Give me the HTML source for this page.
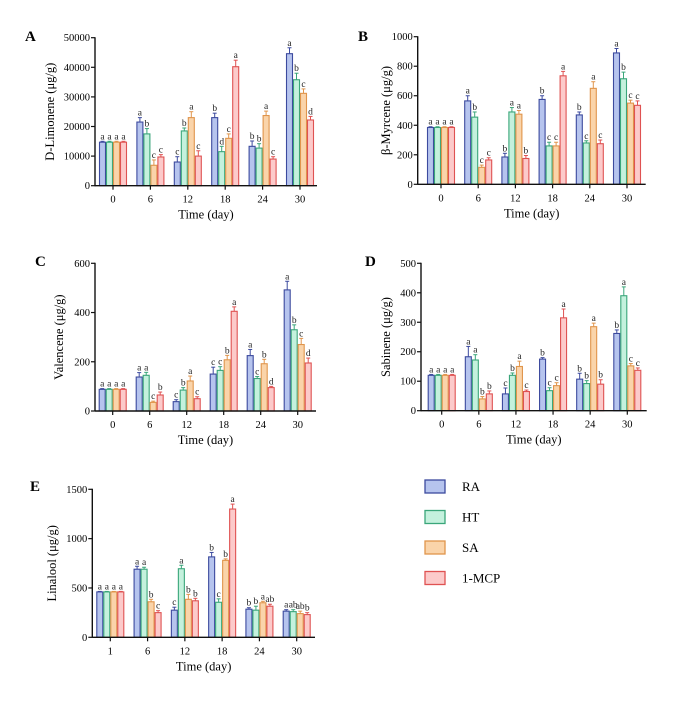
<!DOCTYPE html>
<html><head><meta charset="utf-8"><style>
body{margin:0;background:#fff}
svg{display:block;font-family:"Liberation Serif",serif}
</style></head><body>
<svg id="fig" width="692" height="701" viewBox="0 0 692 701"></svg>
<script>
const categoriesMain = ["0","6","12","18","24","30"];
const categoriesE = ["1","6","12","18","24","30"];
const seriesNames = ["RA","HT","SA","1-MCP"];
const limA = [[14700,21500,8000,23000,13300,44600],[14700,17500,18500,11500,12700,35800],[14700,6900,23000,16000,23700,31200],[14700,9700,10000,40200,9000,22200]];
const limErr = [[300,1500,1800,1500,1800,2000],[300,1800,1000,1800,1500,2200],[300,1800,2000,1500,1500,1500],[300,800,1800,2200,800,1200]];
const limLet = [["a","a","c","b","b","a"],["a","b","b","d","b","b"],["a","c","a","c","a","c"],["a","c","c","a","c","d"]];
const myrB = [[385,565,185,575,470,890],[385,455,490,260,280,715],[385,115,475,260,650,550],[385,165,175,735,275,535]];
const myrErr = [[5,35,25,25,20,30],[5,35,30,25,15,45],[5,15,25,25,45,20],[5,15,20,30,25,30]];
const myrLet = [["a","a","b","b","b","a"],["a","b","a","c","c","b"],["a","c","a","c","a","c"],["a","c","b","a","c","c"]];
const valC = [[88,138,38,150,225,492],[88,145,85,165,132,330],[88,35,122,208,192,270],[88,65,50,405,95,195]];
const valErr = [[3,18,8,28,25,35],[3,12,10,15,8,20],[3,5,20,18,18,25],[3,12,8,18,5,20]];
const valLet = [["a","a","c","c","a","a"],["a","a","b","c","c","b"],["a","c","a","b","b","c"],["a","b","c","a","d","d"]];
const sabD = [[120,183,57,175,107,262],[120,172,120,68,92,390],[120,40,150,85,285,152],[120,57,65,315,90,137]];
const sabErr = [[3,35,20,5,20,12],[3,18,8,10,10,30],[3,8,18,10,12,8],[3,10,5,30,15,8]];
const sabLet = [["a","a","c","b","b","b"],["a","a","b","c","b","a"],["a","b","a","c","a","c"],["a","b","c","a","b","c"]];
const linE = [[460,690,275,815,285,265],[460,690,695,355,275,260],[460,360,385,780,350,240],[460,250,370,1300,315,230]];
const linErr = [[5,30,30,45,15,15],[5,20,35,35,40,20],[5,25,50,15,15,25],[5,20,25,50,20,20]];
const linLet = [["a","a","c","b","b","a"],["a","a","a","c","b","ab"],["a","b","b","b","a","ab"],["a","c","b","a","ab","b"]];
const ticksA=[0,10000,20000,30000,40000,50000], ticksB=[0,200,400,600,800,1000], ticksC=[0,200,400,600], ticksD=[0,100,200,300,400,500], ticksE=[0,500,1000,1500];

const fills=["#b6c4ee","#c4f1dd","#fad4aa","#fccaca"], strokes=["#3c4a9e","#3aa67a","#e0954c","#df5252"];
const NS="http://www.w3.org/2000/svg", svg=document.getElementById("fig");
function mk(tag,attrs,parent,text){const e=document.createElementNS(NS,tag);for(const k in attrs)e.setAttribute(k,attrs[k]);if(text!==undefined)e.textContent=text;(parent||svg).appendChild(e);return e;}

function panel(cfg){
  const g=mk("g",{});
  
  
  const ymax=cfg.ticks[cfg.ticks.length-1];
  const y=v=>cfg.y0-(v/ymax)*(cfg.y0-cfg.yTop);
  const step=(cfg.gLast-cfg.g0)/5;
  const xc=i=>cfg.g0+i*step;
  const bw=7;
  const letter=mk("text",{x:cfg.lx,y:cfg.ly,"font-size":15,"font-weight":"bold"},g,cfg.letter);
  
  
  for(let s=0;s<4;s++){
    for(let i=0;i<6;i++){
      const v=cfg.data[s][i], e=cfg.err[s][i];
      const x=xc(i)-14+s*bw;
      const r=mk("rect",{x:x+0.5,y:y(v),width:bw-1,height:cfg.y0-y(v),fill:fills[s],stroke:strokes[s],"stroke-width":1.1},g);
      
      
      const cx=x+bw/2, ty=y(v+e);
      mk("line",{x1:cx,x2:cx,y1:y(v),y2:ty,stroke:strokes[s],"stroke-width":1},g);
      mk("line",{x1:cx-2,x2:cx+2,y1:ty,y2:ty,stroke:strokes[s],"stroke-width":1},g);
      const t=mk("text",{x:cx,y:ty-2,"font-size":9.5,"text-anchor":"middle",fill:"#222"},g,cfg.lets[s][i]);
      
      
    }
  }
  mk("line",{x1:cfg.ax,x2:cfg.ax,y1:cfg.yTop-0.5,y2:cfg.y0+0.5,stroke:"#111","stroke-width":1.4},g);
  mk("line",{x1:cfg.ax,x2:cfg.xEnd,y1:cfg.y0,y2:cfg.y0,stroke:"#111","stroke-width":1.4},g);
  cfg.ticks.forEach(tv=>{
    mk("line",{x1:cfg.ax-4,x2:cfg.ax,y1:y(tv),y2:y(tv),stroke:"#111","stroke-width":1.2},g);
    const t=mk("text",{x:cfg.ax-5,y:y(tv)+3.5,"font-size":10.5,"text-anchor":"end"},g,tv);
    
    
  });
  for(let i=0;i<6;i++){
    mk("line",{x1:xc(i),x2:xc(i),y1:cfg.y0,y2:cfg.y0+4,stroke:"#111","stroke-width":1.2},g);
    const t=mk("text",{x:xc(i),y:cfg.y0+17,"font-size":10.5,"text-anchor":"middle"},g,cfg.cats[i]);
    
    
  }
  const xt=mk("text",{x:(cfg.ax+cfg.xEnd)/2,y:cfg.y0+33,"font-size":12.5,"text-anchor":"middle"},g,"Time (day)");
  
  
  const ym=(cfg.y0+cfg.yTop)/2;
  const yt=mk("text",{x:cfg.ytx,y:ym,"font-size":12.5,"text-anchor":"middle",transform:`rotate(-90 ${cfg.ytx} ${ym})`},g,cfg.ytitle);
  
  
}

panel({letter:"A",lx:25,ly:41,ax:95,xEnd:317,y0:185.7,yTop:37.7,g0:113,gLast:300,ticks:ticksA,data:limA,err:limErr,lets:limLet,cats:categoriesMain,ytitle:"D-Limonene (μg/g)",ytx:54});
panel({letter:"B",lx:358,ly:41,ax:417.7,xEnd:645.7,y0:184.3,yTop:36.7,g0:441,gLast:627,ticks:ticksB,data:myrB,err:myrErr,lets:myrLet,cats:categoriesMain,ytitle:"β-Myrcene (μg/g)",ytx:390});
panel({letter:"C",lx:35,ly:266,ax:95,xEnd:316,y0:411,yTop:263.3,g0:112.7,gLast:297.7,ticks:ticksC,data:valC,err:valErr,lets:valLet,cats:categoriesMain,ytitle:"Valencene (μg/g)",ytx:63});
panel({letter:"D",lx:365,ly:266,ax:421,xEnd:646.7,y0:410.7,yTop:263.3,g0:441.7,gLast:627.3,ticks:ticksD,data:sabD,err:sabErr,lets:sabLet,cats:categoriesMain,ytitle:"Sabinene (μg/g)",ytx:390});
panel({letter:"E",lx:30,ly:491,ax:92.3,xEnd:315,y0:637.3,yTop:489.3,g0:110.3,gLast:296.7,ticks:ticksE,data:linE,err:linErr,lets:linLet,cats:categoriesE,ytitle:"Linalool (μg/g)",ytx:56});

const lg=mk("g",{});


seriesNames.forEach((n,s)=>{
  const yy=480+s*30.5;
  const r=mk("rect",{x:425,y:yy,width:20,height:13,fill:fills[s],stroke:strokes[s],"stroke-width":1.3},lg);
  
  
  const t=mk("text",{x:462,y:yy+11,"font-size":13},lg,n);
  
  
});
</script>
</body></html>
